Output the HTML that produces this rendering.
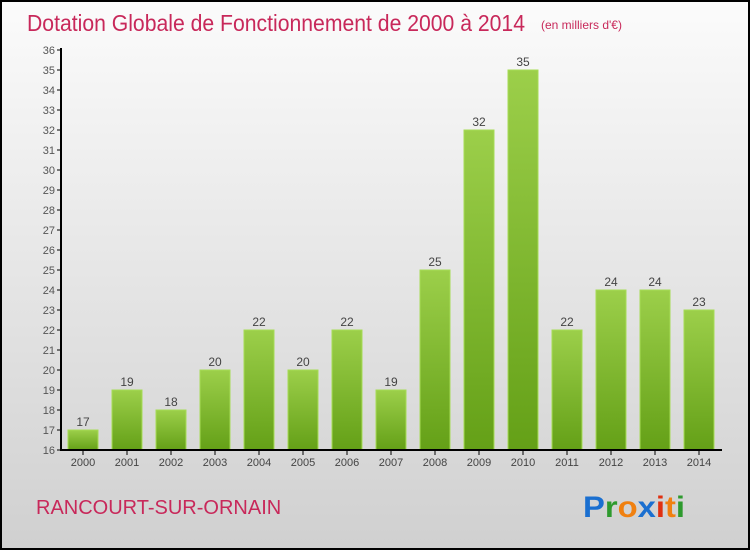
<!DOCTYPE html>
<html><head><meta charset="utf-8"><style>
html,body{margin:0;padding:0}
body{width:750px;height:550px;overflow:hidden;font-family:"Liberation Sans",sans-serif}
#frame{position:absolute;left:0;top:0;width:746px;height:546px;border:2px solid #000;background:linear-gradient(#fbfbfb,#d0d0d0)}
</style></head><body>
<div id="frame"></div>
<svg id="chart" width="750" height="550" style="position:absolute;left:0;top:0">
<defs><linearGradient id="g" x1="0" y1="0" x2="0" y2="1"><stop offset="0" stop-color="#9ccf4a"/><stop offset="1" stop-color="#64a017"/></linearGradient></defs>
<text x="27" y="31" font-size="23" fill="#c8285a" textLength="498" lengthAdjust="spacingAndGlyphs" style="font-weight:300">Dotation Globale de Fonctionnement de 2000 à 2014</text>
<text x="541" y="29" font-size="12" fill="#c8285a">(en milliers d'€)</text>
<text x="36" y="514" font-size="20" fill="#c8285a">RANCOURT-SUR-ORNAIN</text>
<text x="583" y="517" font-size="30" font-weight="bold" textLength="102" lengthAdjust="spacingAndGlyphs"><tspan fill="#1a6fd0">P</tspan><tspan fill="#2e9a2e">r</tspan><tspan fill="#f08010">o</tspan><tspan fill="#1a6fd0">x</tspan><tspan fill="#e03010">i</tspan><tspan fill="#f08010">t</tspan><tspan fill="#2e9a2e">i</tspan></text>
<g id="plot"></g>
</svg>
<script>
const categories=["2000","2001","2002","2003","2004","2005","2006","2007","2008","2009","2010","2011","2012","2013","2014"];
const values=[17,19,18,20,22,20,22,19,25,32,35,22,24,24,23];
const yTicks=[16,17,18,19,20,21,22,23,24,25,26,27,28,29,30,31,32,33,34,35,36];
const NS="http://www.w3.org/2000/svg",g=document.getElementById('plot');
const y=v=>450-(v-16)*20, x=i=>83+i*44;
function mk(t,a,txt){const e=document.createElementNS(NS,t);for(const k in a)e.setAttribute(k,a[k]);if(txt!==undefined)e.textContent=txt;g.appendChild(e);return e;}
yTicks.forEach(t=>{
 const l=mk('line',{x1:57,x2:61,y1:y(t),y2:y(t),stroke:'#000'});
 
 
 const tx=mk('text',{x:55,y:y(t)+4,'font-size':11,fill:'#555','text-anchor':'end'},t);
 
 
});
categories.forEach((c,i)=>{
 const v=values[i];
 const r=mk('rect',{x:x(i)-15,y:y(v),width:30,height:450-y(v),fill:'url(#g)',stroke:'#a6dc55','stroke-width':1});
 
 
 const vl=mk('text',{x:x(i),y:y(v)-4,'font-size':12,fill:'#444','text-anchor':'middle'},v);
 
 
 const tk=mk('line',{x1:x(i),x2:x(i),y1:450,y2:455,stroke:'#000'});
 
 
 const xl=mk('text',{x:x(i),y:466,'font-size':11,fill:'#444','text-anchor':'middle'},c);
 
 
});
const ya=mk('line',{x1:61,x2:61,y1:48,y2:451,stroke:'#000','stroke-width':2});


const xa=mk('line',{x1:60,x2:722,y1:450,y2:450,stroke:'#000','stroke-width':2});


</script>
</body></html>
